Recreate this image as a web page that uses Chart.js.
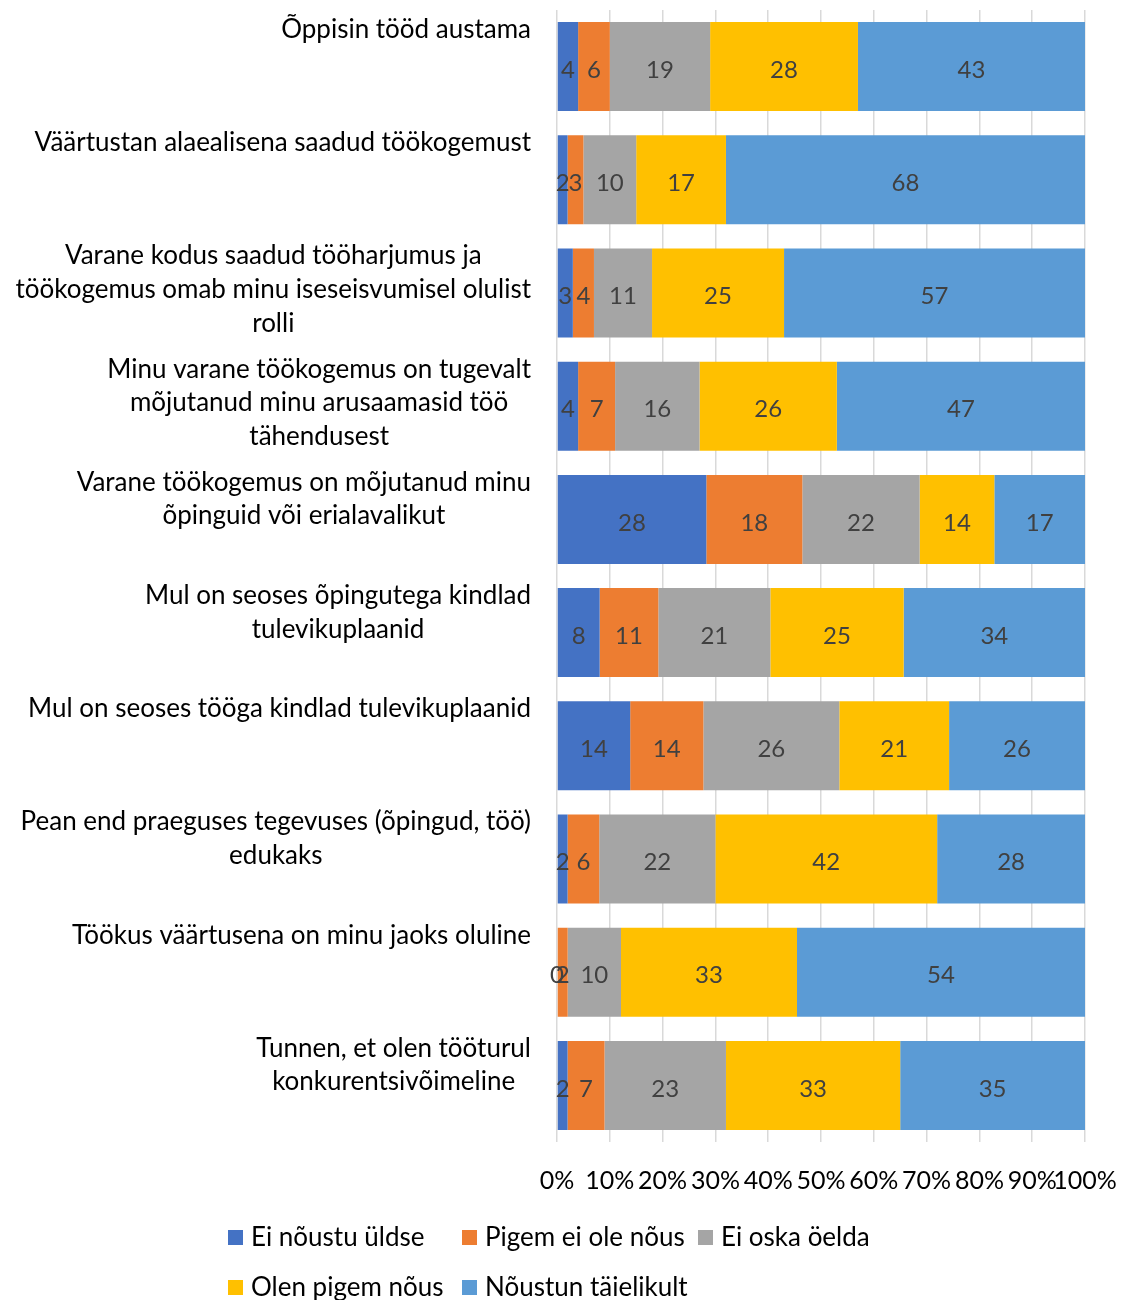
<!DOCTYPE html>
<html>
<head>
<meta charset="utf-8">
<script src="https://cdn.jsdelivr.net/npm/chart.js@4.4.1/dist/chart.umd.min.js"></script>
<style>
  html, body { margin: 0; padding: 0; background: #ffffff; }
  #wrap { width: 1121px; height: 1300px; }
</style>
</head>
<body>
<div id="wrap"><canvas id="c" width="1121" height="1300"></canvas></div>
<script>
// ---- Data ----
const categories = [
  ["Õppisin tööd austama"],
  ["Väärtustan alaealisena saadud töökogemust"],
  ["Varane kodus saadud tööharjumus ja", "töökogemus omab minu iseseisvumisel olulist", "rolli"],
  ["Minu varane töökogemus on tugevalt", "mõjutanud minu arusaamasid töö", "tähendusest"],
  ["Varane töökogemus on mõjutanud minu", "õpinguid või erialavalikut"],
  ["Mul on seoses õpingutega kindlad", "tulevikuplaanid"],
  ["Mul on seoses tööga kindlad tulevikuplaanid"],
  ["Pean end praeguses tegevuses (õpingud, töö)", "edukaks"],
  ["Töökus väärtusena on minu jaoks oluline"],
  ["Tunnen, et olen tööturul", "konkurentsivõimeline"]
];
const seriesNames = ["Ei nõustu üldse", "Pigem ei ole nõus", "Ei oska öelda", "Olen pigem nõus", "Nõustun täielikult"];
const eiNoustuUldse    = [4, 2, 3, 4, 28, 8, 14, 2, 0, 2];
const pigemEiOleNous   = [6, 3, 4, 7, 18, 11, 14, 6, 2, 7];
const eiOskaOelda      = [19, 10, 11, 16, 22, 21, 26, 22, 10, 23];
const olenPigemNous    = [28, 17, 25, 26, 14, 25, 21, 42, 33, 33];
const noustunTaielikult= [43, 68, 57, 47, 17, 34, 26, 28, 54, 35];
const xTickLabels = ["0%", "10%", "20%", "30%", "40%", "50%", "60%", "70%", "80%", "90%", "100%"];

const seriesValues = [eiNoustuUldse, pigemEiOleNous, eiOskaOelda, olenPigemNous, noustunTaielikult];
const seriesColors = ["#4472C4", "#ED7D31", "#A5A5A5", "#FFC000", "#5B9BD5"];

// 100% stacked: normalise each row
const rowSums = categories.map((_, i) => seriesValues.reduce((s, arr) => s + arr[i], 0));
const datasets = seriesValues.map((arr, k) => ({
  label: seriesNames[k],
  data: arr.map((v, i) => v / rowSums[i] * 100),
  counts: arr,
  backgroundColor: seriesColors[k],
  borderWidth: 0,
  categoryPercentage: 1.0,
  barPercentage: 0.786
}));

const FONT = "Lato";

const valueLabels = {
  id: "valueLabels",
  afterDatasetsDraw(chart) {
    const ctx = chart.ctx;
    ctx.save();
    ctx.font = "24px " + FONT;
    ctx.fillStyle = "#404040";
    ctx.textAlign = "center";
    ctx.textBaseline = "middle";
    chart.data.datasets.forEach((ds, di) => {
      const meta = chart.getDatasetMeta(di);
      meta.data.forEach((bar, i) => {
        const x = (bar.x + bar.base) / 2;
        ctx.fillText(String(ds.counts[i]), x, bar.y + 3.5);
      });
    });
    ctx.restore();
  }
};

const categoryLabels = {
  id: "categoryLabels",
  afterDraw(chart) {
    const ctx = chart.ctx;
    const ys = chart.scales.y;
    ctx.save();
    ctx.font = "26px " + FONT;
    ctx.fillStyle = "#000000";
    ctx.textAlign = "center";
    ctx.textBaseline = "middle";
    const rightEdge = 531;
    const lh = 33.6;
    chart.data.labels.forEach((lines, i) => {
      const py = ys.getPixelForValue(i);
      const widest = Math.max(...lines.map(l => ctx.measureText(l).width));
      const cx = rightEdge - widest / 2;
      lines.forEach((l, k) => {
        ctx.fillText(l, cx, py - 37 + k * lh);
      });
    });
    ctx.restore();
  }
};

const gridLegend = {
  id: "gridLegend",
  afterDraw(chart) {
    const ctx = chart.ctx;
    const colX = [228, 462, 698];
    const rowY = [1237, 1287];
    ctx.save();
    ctx.font = "26px " + FONT;
    ctx.textAlign = "left";
    ctx.textBaseline = "middle";
    chart.data.datasets.forEach((ds, i) => {
      const x = colX[i % 3];
      const y = rowY[Math.floor(i / 3)];
      ctx.fillStyle = ds.backgroundColor;
      ctx.fillRect(x, y - 7, 15, 15);
      ctx.fillStyle = "#000000";
      ctx.fillText(ds.label, x + 23, y + 1);
    });
    ctx.restore();
  }
};

new Chart(document.getElementById("c"), {
  type: "bar",
  data: { labels: categories, datasets },
  options: {
    indexAxis: "y",
    responsive: false,
    animation: false,
    events: [],
    layout: { padding: { top: 10, right: 36, left: 0, bottom: 0 } },
    plugins: { legend: { display: false }, tooltip: { enabled: false } },
    scales: {
      x: {
        stacked: true,
        min: 0,
        max: 100,
        afterFit(s) { s.height = 158; s.paddingLeft = 0; s.paddingRight = 0; },
        grid: { color: "#d9d9d9", lineWidth: 1.5, drawTicks: false },
        border: { display: false },
        ticks: {
          stepSize: 10,
          autoSkip: false,
          maxRotation: 0,
          minRotation: 0,
          padding: 24,
          color: "#000000",
          font: { family: FONT, size: 25 },
          callback: (v, idx) => xTickLabels[idx]
        }
      },
      y: {
        stacked: true,
        afterFit(s) { s.width = 557; s.paddingTop = 0; s.paddingBottom = 0; },
        grid: { display: false, drawTicks: false },
        border: { display: false },
        ticks: { display: false }
      }
    }
  },
  plugins: [valueLabels, categoryLabels, gridLegend]
});
</script>
</body>
</html>
